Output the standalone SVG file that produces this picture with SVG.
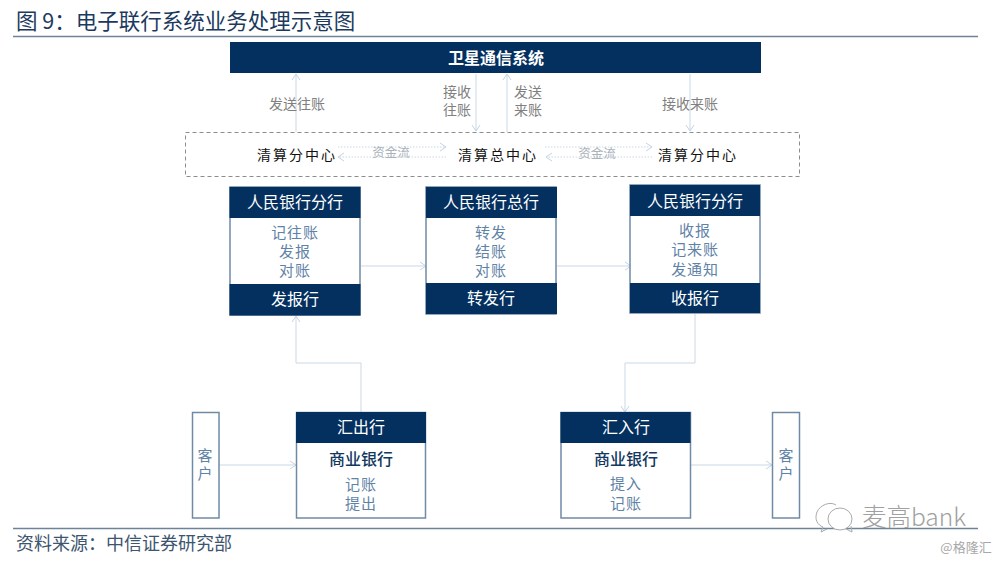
<svg xmlns="http://www.w3.org/2000/svg" width="1000" height="561" viewBox="0 0 1000 561">
<style>
text{font-family:"Noto Sans CJK SC","Liberation Sans",sans-serif;text-anchor:middle}
.navy{fill:#03305f}
.box{fill:#fff;stroke:#6f8aa5;stroke-width:1.5}
.h{fill:#fff;font-size:16px}
.b{fill:#5f83a6;font-size:15px;letter-spacing:.9px}
.s{fill:#12385f;font-size:16px;font-weight:500}
.v{fill:#5f83a6;font-size:15px;writing-mode:vertical-rl;letter-spacing:3px}
.l{fill:#808080;font-size:14px}
.f{fill:#aab2ba;font-size:12.500px}
.c{fill:#111;font-size:14px;letter-spacing:2px}
.conn{fill:none;stroke:#c9d8e6;stroke-width:1}
.dot{stroke-dasharray:1.5 1.5}
.rule{stroke:#6c8398;stroke-width:1.3}
</style>
<defs>
<marker id="a" markerWidth="8" markerHeight="10" refX="7" refY="5" orient="auto" markerUnits="userSpaceOnUse">
<path d="M1 1L7 5L1 9" fill="none" stroke="#c3d3e3" stroke-width="1"/>
</marker>
</defs>
<rect width="1000" height="561" fill="#fff"/>
<text x="16" y="29" style="text-anchor:start;font-size:21.500px;fill:#1c3a5e">图 9：电子联行系统业务处理示意图</text>
<line class="rule" x1="13" y1="36.500" x2="978" y2="36.500"/>
<line class="rule" x1="13" y1="528.500" x2="978" y2="528.500"/>
<text x="16" y="550" style="text-anchor:start;font-size:18px;fill:#3d556e">资料来源：中信证券研究部</text>
<g id="connectors">
<path class="conn" marker-end="url(#a)" d="M296 132V74"/>
<path class="conn" marker-end="url(#a)" d="M476 74V131"/>
<path class="conn" marker-end="url(#a)" d="M507 132V74"/>
<path class="conn" marker-end="url(#a)" d="M690 74V131"/>
<path class="conn dot" marker-end="url(#a)" d="M338 147H446"/>
<path class="conn dot" marker-end="url(#a)" d="M446 157H338"/>
<path class="conn dot" marker-end="url(#a)" d="M545 147H652"/>
<path class="conn dot" marker-end="url(#a)" d="M652 157H546"/>
<path class="conn" marker-end="url(#a)" d="M361 266H426"/>
<path class="conn" marker-end="url(#a)" d="M557 266H631"/>
<path class="conn" marker-end="url(#a)" d="M361 412V363H296V316"/>
<path class="conn" marker-end="url(#a)" d="M695 314V363H625V412"/>
<path class="conn" marker-end="url(#a)" d="M219 465H296"/>
<path class="conn" marker-end="url(#a)" d="M691 465H772"/>
</g>
<g id="satellite">
<rect class="navy" x="230" y="42" width="531" height="31"/>
<text x="496" y="64" style="fill:#fff;font-size:16px;font-weight:700">卫星通信系统</text>
</g>
<g id="labels">
<text class="l" x="297" y="109">发送往账</text>
<text class="l" x="457" y="97">接收<tspan x="457" dy="18">往账</tspan></text>
<text class="l" x="528" y="97">发送<tspan x="528" dy="18">来账</tspan></text>
<text class="l" x="690" y="109">接收来账</text>
</g>
<g id="clearing">
<rect x="185.500" y="132.500" width="614" height="44" fill="none" stroke="#8d8d8d" stroke-dasharray="4 3"/>
<text class="c" x="297" y="160">清算分中心</text>
<text class="c" x="498" y="160">清算总中心</text>
<text class="c" x="698" y="160">清算分中心</text>
<text class="f" x="391" y="157">资金流</text>
<text class="f" x="597" y="158">资金流</text>
</g>
<g id="node-fabao">
<rect class="box" x="230" y="187" width="130" height="128"/>
<rect class="navy" x="229.500" y="187" width="131" height="31"/>
<rect class="navy" x="229.500" y="284" width="131" height="31.500"/>
<text class="h" x="295" y="208">人民银行分行</text>
<text class="b" x="295" y="238">记往账<tspan x="295" dy="19">发报</tspan><tspan x="295" dy="19">对账</tspan></text>
<text class="h" x="295" y="305">发报行</text>
</g>
<g id="node-zhuanfa">
<rect class="box" x="426" y="187" width="130" height="127"/>
<rect class="navy" x="426" y="187" width="131" height="31"/>
<rect class="navy" x="426" y="283" width="131" height="31"/>
<text class="h" x="491" y="208">人民银行总行</text>
<text class="b" x="491" y="238">转发<tspan x="491" dy="19">结账</tspan><tspan x="491" dy="19">对账</tspan></text>
<text class="h" x="491" y="304">转发行</text>
</g>
<g id="node-shoubao">
<rect class="box" x="630" y="185" width="130" height="128"/>
<rect class="navy" x="630" y="185" width="130" height="31"/>
<rect class="navy" x="630" y="283" width="130" height="30"/>
<text class="h" x="695" y="207">人民银行分行</text>
<text class="b" x="695" y="236">收报<tspan x="695" dy="19">记来账</tspan><tspan x="695" dy="20">发通知</tspan></text>
<text class="h" x="695" y="304">收报行</text>
</g>
<g id="node-huichu">
<rect class="box" x="296.500" y="412.500" width="129" height="105.500"/>
<rect class="navy" x="296" y="412" width="130" height="31"/>
<text class="h" x="361" y="433">汇出行</text>
<text class="s" x="361" y="465">商业银行</text>
<text class="b" x="361" y="490">记账<tspan x="361" dy="19">提出</tspan></text>
</g>
<g id="node-huiru">
<rect class="box" x="561" y="412.500" width="129.500" height="105.500"/>
<rect class="navy" x="560.500" y="412" width="130" height="31"/>
<text class="h" x="626" y="433">汇入行</text>
<text class="s" x="626" y="465">商业银行</text>
<text class="b" x="626" y="489">提入<tspan x="626" dy="20">记账</tspan></text>
</g>
<g id="node-client-left">
<rect class="box" x="192.500" y="412.500" width="26.500" height="105.500"/>
<text class="v" x="205" y="466">客户</text>
</g>
<g id="node-client-right">
<rect class="box" x="772.500" y="412.500" width="27" height="105.500"/>
<text class="v" x="786" y="466">客户</text>
</g>
<g id="watermark" fill="none" stroke="#a9a9a9" stroke-width="1">
<path d="M836 505C830 501 820 505 817 512C814 520 818 525 823 527L821 532L827 529"/>
<ellipse cx="840" cy="519" rx="12" ry="11" fill="#fff"/>
<path d="M846 529L852 532L851 526"/>
<text x="862" y="526" style="text-anchor:start;font-size:24.500px;fill:#a0a0a0;stroke:none;font-weight:300">麦高bank</text>
<text x="966" y="552" style="font-size:13px;fill:#a8a8a8;stroke:none">@格隆汇</text>
</g>
</svg>
